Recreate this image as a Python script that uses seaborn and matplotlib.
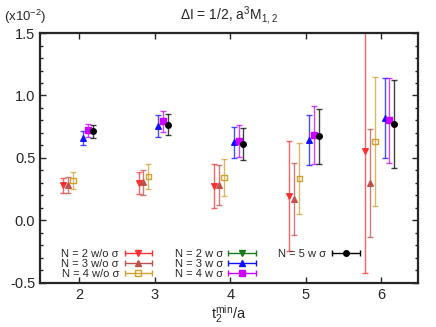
import numpy as np
import pandas as pd
import matplotlib
matplotlib.use("Agg")
import matplotlib.pyplot as plt
import seaborn as sns
from matplotlib.ticker import MultipleLocator
from matplotlib.legend_handler import HandlerErrorbar

# t2min/a values
t_vals = [2, 3, 4, 5, 6]

# values in units of 1e-2
n2_wo = [0.28, 0.30, 0.276, 0.198, 0.556]
n2_wo_err = [0.06, 0.09, 0.175, 0.44, 0.98]
n3_wo = [0.285, 0.305, 0.284, 0.172, 0.30]
n3_wo_err = [0.065, 0.10, 0.157, 0.287, 0.43]
n4_wo = [0.32, 0.35, 0.343, 0.335, 0.633]
n4_wo_err = [0.07, 0.10, 0.15, 0.283, 0.515]
n3_w = [0.66, 0.756, 0.625, 0.641, 0.82]
n3_w_err = [0.055, 0.085, 0.125, 0.20, 0.322]
n4_w = [0.72, 0.794, 0.636, 0.684, 0.80]
n4_w_err = [0.05, 0.085, 0.126, 0.23, 0.34]
n5_w = [0.715, 0.766, 0.612, 0.673, 0.772]
n5_w_err = [0.052, 0.083, 0.127, 0.222, 0.353]

sns.set_style("ticks")
plt.rcParams['font.family'] = ['Liberation Sans', 'DejaVu Sans']
plt.rcParams['mathtext.fontset'] = 'custom'
plt.rcParams['mathtext.rm'] = 'Liberation Sans'
plt.rcParams['mathtext.it'] = 'Liberation Sans'

fig = plt.figure(figsize=(4.36, 3.27), dpi=100)
ax = fig.add_axes([0.092, 0.135, 0.867, 0.764])

# label, values, errors, x offset, color, marker, filled
series = [
    ("N = 2 w/o σ", n2_wo, n2_wo_err, -0.215, "#ff3030", "v", True),
    ("N = 3 w/o σ", n3_wo, n3_wo_err, -0.15, "#c0504d", "^", True),
    ("N = 4 w/o σ", n4_wo, n4_wo_err, -0.085, "#d0a030", "s", False),
    ("N = 2 w σ", None, None, -0.02, "#1a7a1a", "v", True),
    ("N = 3 w σ", n3_w, n3_w_err, 0.045, "#1010ff", "^", True),
    ("N = 4 w σ", n4_w, n4_w_err, 0.11, "#cc00ff", "s", True),
    ("N = 5 w σ", n5_w, n5_w_err, 0.175, "#000000", "o", True),
]

handles = {}
for label, vals, errs, off, color, marker, filled in series:
    face = color if filled else "none"
    if vals is not None:
        df = pd.DataFrame({"t": t_vals, "y": vals, "err": errs})
        df["x"] = df["t"] + off
        ax.errorbar(df["x"], df["y"], yerr=df["err"], fmt="none",
                    ecolor=color, elinewidth=1.0, capsize=2.2, capthick=1.0, alpha=0.75)
        sns.scatterplot(data=df, x="x", y="y", ax=ax, marker=marker, s=16,
                        color=face, edgecolor=color, linewidth=1.0, zorder=3, legend=False)
    # legend handle with horizontal bar
    h = ax.errorbar([np.nan], [np.nan], xerr=[1.0], fmt=marker, color=color,
                    mfc=face, mec=color, ms=4, elinewidth=1.0, capsize=2.2)
    handles[label] = h

blank = plt.Line2D([], [], linestyle="none", marker=None)
order = ["N = 2 w/o σ", "N = 3 w/o σ", "N = 4 w/o σ",
         "N = 2 w σ", "N = 3 w σ", "N = 4 w σ", "N = 5 w σ"]
hl = [handles[k] for k in order] + [blank, blank]
ll = order + ["", ""]
ax.legend(hl, ll, ncol=3, loc="lower left", bbox_to_anchor=(0.03, -0.025),
          frameon=False, fontsize=8, markerfirst=False, handlelength=2.5,
          labelspacing=0.0, columnspacing=2.0, handletextpad=0.5,
          handler_map={type(handles[order[0]]): HandlerErrorbar(xerr_size=1.25)})

ax.set_xlim(1.48, 6.49)
ax.set_ylim(-0.5, 1.5)
ax.xaxis.set_major_locator(MultipleLocator(1))
ax.yaxis.set_major_locator(MultipleLocator(0.5))
ax.yaxis.set_minor_locator(MultipleLocator(0.1))
ax.yaxis.set_major_formatter(matplotlib.ticker.FormatStrFormatter("%.1f"))
ax.tick_params(which="both", direction="in", top=True, right=True, labelsize=10.5)
ax.tick_params(which="major", length=4, width=1)
ax.tick_params(which="minor", length=2.5, width=1)
ax.tick_params(axis="x", which="minor", top=False, bottom=False)
for sp in ax.spines.values():
    sp.set_linewidth(1.6)

ax.set_xlabel("t$_2^{\\mathrm{min}}$/a", fontsize=10.5, labelpad=1)
ax.set_ylabel("")
ax.set_title("ΔI = 1/2, a$^3$M$_{1,2}$", fontsize=10, pad=9)
fig.text(0.01, 0.935, "(x10$^{-2}$)", fontsize=9.5)

fig.savefig("out.png", dpi=100)
